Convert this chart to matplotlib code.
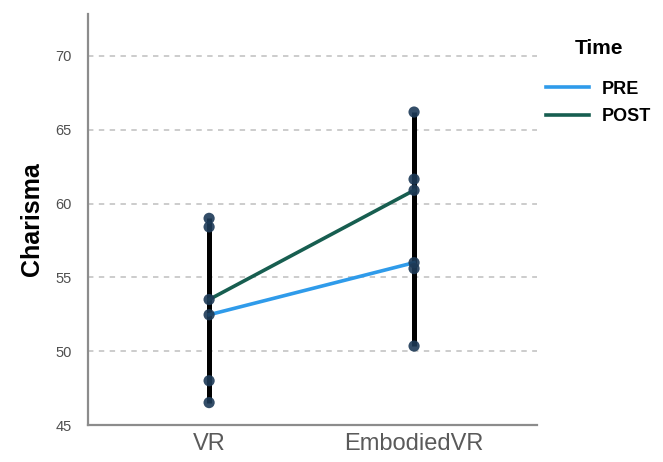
import matplotlib.pyplot as plt
import numpy as np

# group means and half-widths of the error bars
groups = ["VR", "EmbodiedVR"]
pre_mean = [52.47, 56.0]
pre_err = [5.95, 5.65]
post_mean = [53.5, 60.9]
post_err = [5.5, 5.3]

plt.rcParams['font.family'] = ['Liberation Sans', 'DejaVu Sans']

fig = plt.figure(figsize=(6.63, 4.62), dpi=100)
ax = fig.add_axes([0.133, 0.080, 0.677, 0.890])

x = np.arange(len(groups))
pre_col = "#2f9bea"
post_col = "#175e50"
dot_col = "#1d3a57"

ax.plot(x, pre_mean, color=pre_col, lw=2.6, label="PRE", zorder=3)
ax.plot(x, post_mean, color=post_col, lw=2.6, label="POST", zorder=3)

for mean, err in [(pre_mean, pre_err), (post_mean, post_err)]:
    mean = np.array(mean)
    err = np.array(err)
    ax.errorbar(x, mean, yerr=err, fmt='none', ecolor='black', elinewidth=3.6,
                capsize=0, zorder=2)
    for yy in (mean - err, mean, mean + err):
        ax.scatter(x, yy, s=65, color=dot_col, alpha=0.9, zorder=4, edgecolors='none')

ax.set_xlim(-0.59, 1.6)
ax.set_ylim(45, 72.85)
ax.set_yticks([45, 50, 55, 60, 65, 70])
ax.set_xticks(x)
ax.set_xticklabels(groups)
ax.tick_params(axis='x', length=0, labelsize=17, labelcolor='#5a5a5a', pad=6)
ax.tick_params(axis='y', length=0, labelsize=10.5, labelcolor='#4f4f4f', pad=12)

for v in [50, 55, 60, 65, 70]:
    ax.axhline(v, color='#c8c8c8', lw=1.3, ls=(0, (3, 3)), zorder=0)

for s in ['top', 'right']:
    ax.spines[s].set_visible(False)
for s in ['left', 'bottom']:
    ax.spines[s].set_color('#8c8c8c')
    ax.spines[s].set_linewidth(1.6)

ax.set_ylabel("Charisma", fontsize=18, fontweight='bold', labelpad=8)

leg = fig.legend(loc='upper left', bbox_to_anchor=(0.799, 0.95), frameon=False,
                 title="Time", title_fontproperties={'weight': 'bold', 'size': 15},
                 prop={'weight': 'bold', 'size': 13}, handlelength=2.4,
                 handletextpad=0.7, labelspacing=0.6)
# extra room between the legend title and the entries
leg._legend_box.sep = 16

fig.savefig("out.png", dpi=100)
